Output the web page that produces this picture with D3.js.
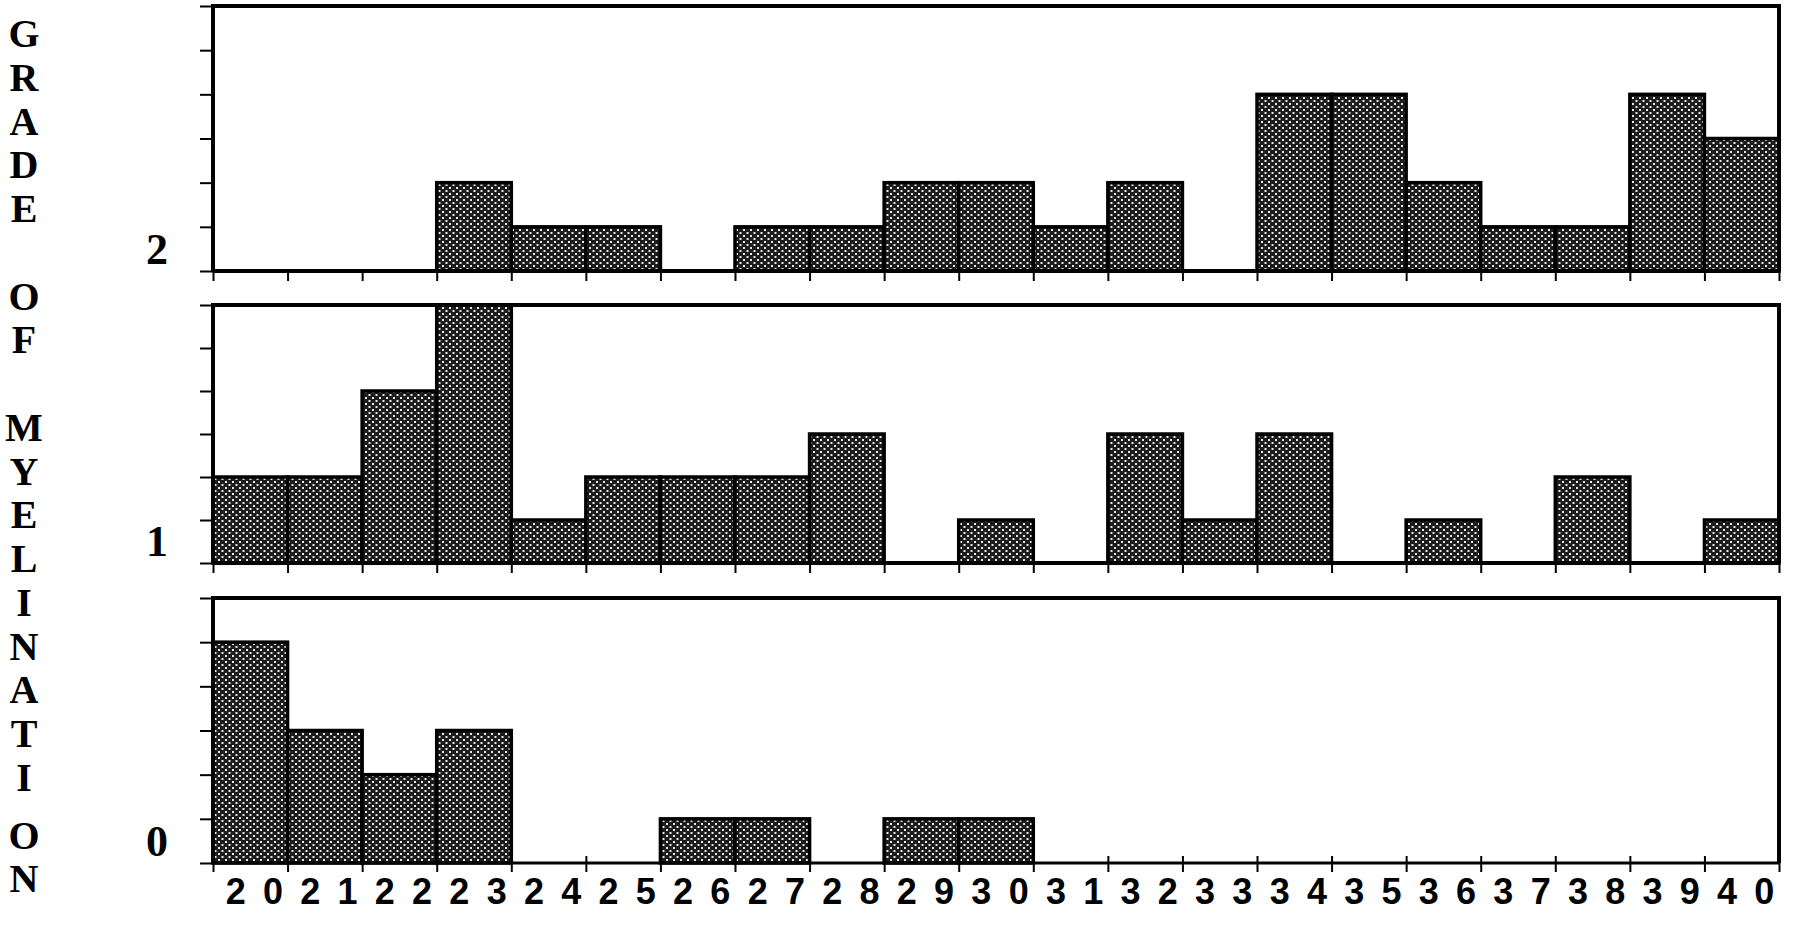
<!DOCTYPE html>
<html>
<head>
<meta charset="utf-8">
<script src="https://cdn.jsdelivr.net/npm/d3@7"></script>
<style>
  html, body { margin: 0; padding: 0; background: #fff; }
  svg { display: block; }
</style>
</head>
<body>
<svg id="chart" width="1800" height="932"></svg>
<script>
// ---------------- data ----------------
const ages = d3.range(20, 41);                 // 20 .. 40 (one bin each)
const xTickLabels = ages.map(String);          // "20" .. "40"
const grade2Counts = [0,0,0,2,1,1,0,1,1,2,2,1,2,0,4,4,2,1,1,4,3];
const grade1Counts = [2,2,4,6,1,2,2,2,3,0,1,0,3,1,3,0,1,0,2,0,1];
const grade0Counts = [5,3,2,3,0,0,1,1,0,1,1,0,0,0,0,0,0,0,0,0,0];
const gradeLabels  = ["2", "1", "0"];
const yTickValues  = [0,1,2,3,4,5,6];
const titleText    = "GRADE OF MYELINATION";

// ---------------- layout ----------------
const svg = d3.select("#chart");
const left = 213, right = 1779;
const panelBoxes = [
  { top: 6,   bottom: 271 },
  { top: 305, bottom: 563 },
  { top: 598, bottom: 863 }
];
const series = [grade2Counts, grade1Counts, grade0Counts];

const defs = svg.append("defs");
const pat = defs.append("pattern")
  .attr("id", "dots").attr("width", 7).attr("height", 6)
  .attr("patternUnits", "userSpaceOnUse");
pat.append("rect").attr("width", 7).attr("height", 6).attr("fill", "#1c1c1c");
pat.append("rect").attr("x", 1).attr("y", 1).attr("width", 2).attr("height", 2).attr("fill", "#e8e8e8");
pat.append("rect").attr("x", 4.5).attr("y", 4).attr("width", 2).attr("height", 2).attr("fill", "#e8e8e8");

const xb = d3.scaleLinear().domain([20, 41]).range([left, right]);

panelBoxes.forEach((box, i) => {
  const vals = series[i];
  const y = d3.scaleLinear().domain([0, 6]).range([box.bottom, box.top]);
  const g = svg.append("g");

  // bars
  g.selectAll("rect.bar")
    .data(ages.map((a, k) => ({ age: a, v: vals[k] })).filter(d => d.v > 0))
    .join("rect")
    .attr("class", "bar")
    .attr("x", d => xb(d.age))
    .attr("width", d => xb(d.age + 1) - xb(d.age))
    .attr("y", d => y(d.v))
    .attr("height", d => y(0) - y(d.v))
    .attr("fill", "url(#dots)")
    .attr("stroke", "#000")
    .attr("stroke-width", 3.5);

  // y axis ticks (outward to the left)
  const ya = g.append("g")
    .attr("transform", `translate(${left},0)`)
    .call(d3.axisLeft(y).tickValues(yTickValues).tickSize(13).tickFormat(""));
  ya.select(".domain").remove();
  ya.selectAll(".tick line").attr("stroke", "#000").attr("stroke-width", 2);

  // x axis ticks at bin boundaries
  const xa = g.append("g")
    .attr("transform", `translate(0,${box.bottom})`)
    .call(d3.axisBottom(xb).tickValues(d3.range(20, 42)).tickSize(i === 2 ? 9 : 10).tickFormat(""));
  xa.select(".domain").remove();
  xa.selectAll(".tick line").attr("stroke", "#000").attr("stroke-width", 2)
    .attr("y1", i === 2 ? -7 : 0);

  // panel frame: top, left, right
  g.append("path")
    .attr("d", `M${left},${box.bottom} L${left},${box.top} L${right},${box.top} L${right},${box.bottom}`)
    .attr("fill", "none").attr("stroke", "#000").attr("stroke-width", 4)
    .attr("stroke-linejoin", "miter");
  // baseline
  g.append("line")
    .attr("x1", left).attr("x2", right)
    .attr("y1", box.bottom).attr("y2", box.bottom)
    .attr("stroke", "#000").attr("stroke-width", i === 2 ? 3 : 4);

  // grade label
  g.append("text")
    .attr("x", 157).attr("y", box.bottom - 7)
    .attr("text-anchor", "middle")
    .attr("font-family", "'Liberation Serif', 'Times New Roman', serif")
    .attr("font-weight", "bold").attr("font-size", 44)
    .text(gradeLabels[i]);
});

// x tick labels: two spaced digits per bin
const lab = svg.append("g")
  .attr("font-family", "'Liberation Sans', Arial, sans-serif")
  .attr("font-weight", "bold").attr("font-size", 36)
  .attr("text-anchor", "middle");
ages.forEach((a, k) => {
  const s = xTickLabels[k];
  [0, 1].forEach(j => {
    lab.append("text")
      .attr("x", xb(a + 0.25 + 0.5 * j) + 4)
      .attr("y", 904)
      .text(s[j]);
  });
});

// vertical stacked title
const tg = svg.append("g")
  .attr("font-family", "'Liberation Serif', 'Times New Roman', serif")
  .attr("font-weight", "bold").attr("font-size", 40)
  .attr("text-anchor", "middle");
titleText.split("").forEach((ch, i) => {
  if (ch === " ") return;
  tg.append("text")
    .attr("x", 24)
    .attr("y", 34 + i * 43.75 + (i >= 18 ? 14 : 0) + 13)
    .text(ch);
});
</script>
</body>
</html>
